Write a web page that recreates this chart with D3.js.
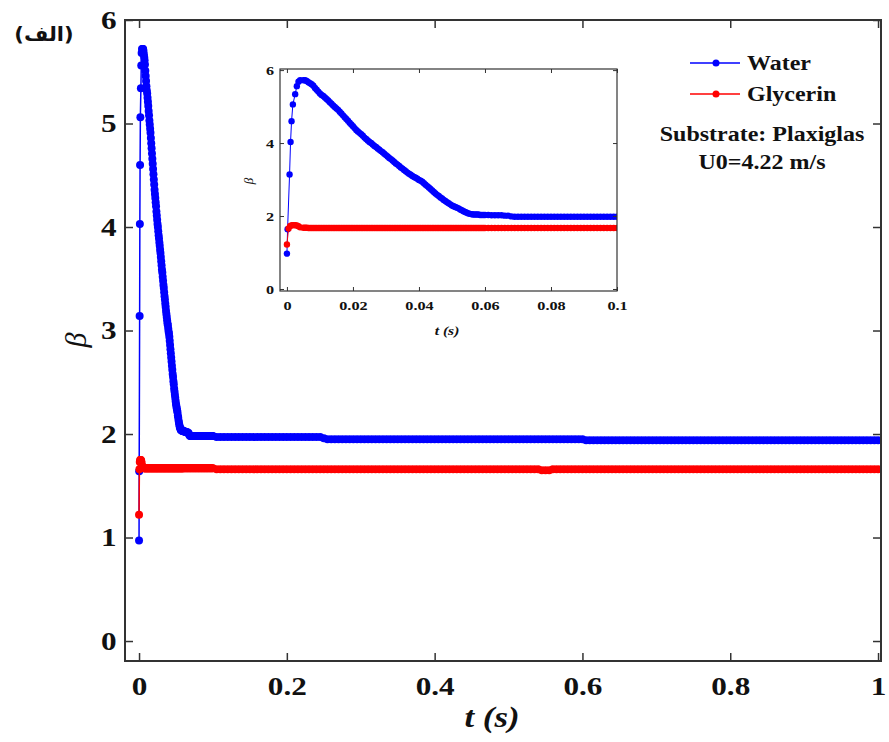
<!DOCTYPE html>
<html>
<head>
<meta charset="utf-8">
<script src="https://cdn.jsdelivr.net/npm/d3@7"></script>
<style>
  body { margin: 0; background: #fff; }
  svg { display: block; }
</style>
</head>
<body>
<svg id="chart" width="889" height="742"></svg>
<script>
// ---- data -------------------------------------------------------------
// Impact phase, sampled irregularly (t in s)
const waterEarlyT = [0, 0.0002, 0.0008, 0.0011, 0.0014, 0.0018, 0.0025, 0.003, 0.0035, 0.004];
const waterEarly  = [0.97, 1.64, 3.14, 4.03, 4.60, 5.06, 5.34, 5.56, 5.68, 5.72];

const glycerinEarlyT = [0, 0.0005, 0.001, 0.0015, 0.002, 0.0025, 0.003, 0.0035, 0.004];
const glycerinEarly  = [1.22, 1.66, 1.73, 1.75, 1.75, 1.75, 1.74, 1.72, 1.69];

// Spreading / recoil phase, t = 0.0050 ... 0.0600 s every 0.5 ms
const tA = d3.range(0, 111).map(i => 0.005 + i * 0.0005);
const waterA = [
  5.72, 5.72, 5.70, 5.67, 5.64, 5.61, 5.57, 5.51, 5.46, 5.41,
  5.36, 5.32, 5.29, 5.25, 5.21, 5.17, 5.12, 5.08, 5.03, 4.99,
  4.95, 4.91, 4.86, 4.81, 4.76, 4.71, 4.66, 4.61, 4.56, 4.51,
  4.46, 4.41, 4.36, 4.32, 4.28, 4.24, 4.20, 4.15, 4.11, 4.07,
  4.03, 4.00, 3.96, 3.92, 3.89, 3.85, 3.82, 3.78, 3.75, 3.71,
  3.67, 3.63, 3.59, 3.56, 3.52, 3.48, 3.44, 3.41, 3.37, 3.33,
  3.30, 3.26, 3.23, 3.19, 3.16, 3.13, 3.10, 3.07, 3.05, 3.02,
  2.99, 2.97, 2.94, 2.90, 2.86, 2.82, 2.78, 2.74, 2.70, 2.66,
  2.62, 2.58, 2.55, 2.51, 2.48, 2.44, 2.41, 2.38, 2.35, 2.32,
  2.29, 2.27, 2.25, 2.23, 2.21, 2.18, 2.16, 2.13, 2.11, 2.09,
  2.07, 2.06, 2.05, 2.04, 2.04, 2.04, 2.04, 2.03, 2.03, 2.03,
  2.03
];
const glycerinA = [
  1.68, 1.68, 1.68, 1.67, 1.67, 1.67, 1.67, 1.67, 1.67, 1.67,
  1.67, 1.67, 1.67, 1.67, 1.67, 1.67, 1.67, 1.67, 1.67, 1.67,
  1.67, 1.67, 1.67, 1.67, 1.67, 1.67, 1.67, 1.67, 1.67, 1.67,
  1.67, 1.67, 1.67, 1.67, 1.67, 1.67, 1.67, 1.67, 1.67, 1.67,
  1.67, 1.67, 1.67, 1.67, 1.67, 1.67, 1.67, 1.67, 1.67, 1.67,
  1.67, 1.67, 1.67, 1.67, 1.67, 1.67, 1.67, 1.67, 1.67, 1.67,
  1.67, 1.67, 1.67, 1.67, 1.67, 1.67, 1.67, 1.67, 1.67, 1.67,
  1.67, 1.67, 1.67, 1.67, 1.67, 1.67, 1.67, 1.67, 1.67, 1.67,
  1.67, 1.67, 1.67, 1.67, 1.67, 1.67, 1.67, 1.67, 1.67, 1.67,
  1.67, 1.67, 1.67, 1.67, 1.67, 1.67, 1.67, 1.67, 1.67, 1.67,
  1.67, 1.67, 1.67, 1.67, 1.67, 1.67, 1.67, 1.67, 1.67, 1.67,
  1.67
];

// Settling phase, t = 0.061 ... 0.100 s every 1 ms
const tB = d3.range(61, 101).map(i => i / 1000);
const waterB = [
  2.03, 2.02, 2.02, 2.02, 2.02, 2.01, 2.01, 1.99, 1.98, 1.98,
  1.98, 1.98, 1.98, 1.98, 1.98, 1.98, 1.98, 1.98, 1.98, 1.98,
  1.98, 1.98, 1.98, 1.98, 1.98, 1.98, 1.98, 1.98, 1.98, 1.98,
  1.98, 1.98, 1.98, 1.98, 1.98, 1.98, 1.98, 1.98, 1.98, 1.98
];
const glycerinB = [
  1.67, 1.67, 1.67, 1.67, 1.67, 1.67, 1.67, 1.67, 1.67, 1.67,
  1.67, 1.67, 1.67, 1.67, 1.67, 1.67, 1.67, 1.67, 1.67, 1.67,
  1.67, 1.67, 1.67, 1.67, 1.67, 1.67, 1.67, 1.67, 1.67, 1.67,
  1.67, 1.67, 1.67, 1.67, 1.67, 1.67, 1.67, 1.67, 1.67, 1.67
];

// Equilibrium, t = 0.105 ... 1.000 s every 5 ms
const tC = d3.range(21, 201).map(i => i / 200);
const waterC = [
  1.97, 1.97, 1.97, 1.97, 1.97, 1.97, 1.97, 1.97, 1.97, 1.97,
  1.97, 1.97, 1.97, 1.97, 1.97, 1.97, 1.97, 1.97, 1.97, 1.97,
  1.97, 1.97, 1.97, 1.97, 1.97, 1.97, 1.97, 1.97, 1.97, 1.96,
  1.95, 1.95, 1.95, 1.95, 1.95, 1.95, 1.95, 1.95, 1.95, 1.95,
  1.95, 1.95, 1.95, 1.95, 1.95, 1.95, 1.95, 1.95, 1.95, 1.95,
  1.95, 1.95, 1.95, 1.95, 1.95, 1.95, 1.95, 1.95, 1.95, 1.95,
  1.95, 1.95, 1.95, 1.95, 1.95, 1.95, 1.95, 1.95, 1.95, 1.95,
  1.95, 1.95, 1.95, 1.95, 1.95, 1.95, 1.95, 1.95, 1.95, 1.95,
  1.95, 1.95, 1.95, 1.95, 1.95, 1.95, 1.95, 1.95, 1.95, 1.95,
  1.95, 1.95, 1.95, 1.95, 1.95, 1.95, 1.95, 1.95, 1.95, 1.95,
  1.94, 1.94, 1.94, 1.94, 1.94, 1.94, 1.94, 1.94, 1.94, 1.94,
  1.94, 1.94, 1.94, 1.94, 1.94, 1.94, 1.94, 1.94, 1.94, 1.94,
  1.94, 1.94, 1.94, 1.94, 1.94, 1.94, 1.94, 1.94, 1.94, 1.94,
  1.94, 1.94, 1.94, 1.94, 1.94, 1.94, 1.94, 1.94, 1.94, 1.94,
  1.94, 1.94, 1.94, 1.94, 1.94, 1.94, 1.94, 1.94, 1.94, 1.94,
  1.94, 1.94, 1.94, 1.94, 1.94, 1.94, 1.94, 1.94, 1.94, 1.94,
  1.94, 1.94, 1.94, 1.94, 1.94, 1.94, 1.94, 1.94, 1.94, 1.94,
  1.94, 1.94, 1.94, 1.94, 1.94, 1.94, 1.94, 1.94, 1.94, 1.94
];
const glycerinC = [
  1.66, 1.66, 1.66, 1.66, 1.66, 1.66, 1.66, 1.66, 1.66, 1.66,
  1.66, 1.66, 1.66, 1.66, 1.66, 1.66, 1.66, 1.66, 1.66, 1.66,
  1.66, 1.66, 1.66, 1.66, 1.66, 1.66, 1.66, 1.66, 1.66, 1.66,
  1.66, 1.66, 1.66, 1.66, 1.66, 1.66, 1.66, 1.66, 1.66, 1.66,
  1.66, 1.66, 1.66, 1.66, 1.66, 1.66, 1.66, 1.66, 1.66, 1.66,
  1.66, 1.66, 1.66, 1.66, 1.66, 1.66, 1.66, 1.66, 1.66, 1.66,
  1.66, 1.66, 1.66, 1.66, 1.66, 1.66, 1.66, 1.66, 1.66, 1.66,
  1.66, 1.66, 1.66, 1.66, 1.66, 1.66, 1.66, 1.66, 1.66, 1.66,
  1.66, 1.66, 1.66, 1.66, 1.66, 1.66, 1.66, 1.66, 1.65, 1.65,
  1.65, 1.66, 1.66, 1.66, 1.66, 1.66, 1.66, 1.66, 1.66, 1.66,
  1.66, 1.66, 1.66, 1.66, 1.66, 1.66, 1.66, 1.66, 1.66, 1.66,
  1.66, 1.66, 1.66, 1.66, 1.66, 1.66, 1.66, 1.66, 1.66, 1.66,
  1.66, 1.66, 1.66, 1.66, 1.66, 1.66, 1.66, 1.66, 1.66, 1.66,
  1.66, 1.66, 1.66, 1.66, 1.66, 1.66, 1.66, 1.66, 1.66, 1.66,
  1.66, 1.66, 1.66, 1.66, 1.66, 1.66, 1.66, 1.66, 1.66, 1.66,
  1.66, 1.66, 1.66, 1.66, 1.66, 1.66, 1.66, 1.66, 1.66, 1.66,
  1.66, 1.66, 1.66, 1.66, 1.66, 1.66, 1.66, 1.66, 1.66, 1.66,
  1.66, 1.66, 1.66, 1.66, 1.66, 1.66, 1.66, 1.66, 1.66, 1.66
];

const seriesNames  = ["Water", "Glycerin"];
const seriesColors = ["#0000ff", "#ff0000"];

const mainXTicks  = [0, 0.2, 0.4, 0.6, 0.8, 1];
const mainYTicks  = [0, 1, 2, 3, 4, 5, 6];
const insetXTicks = [0, 0.02, 0.04, 0.06, 0.08, 0.1];
const insetYTicks = [0, 2, 4, 6];

const panelTag  = "(الف)";
const noteLines = ["Substrate: Plaxiglas", "U0=4.22 m/s"];

// ---- helpers ------------------------------------------------------------
function buildSeries(earlyT, early, a, b, c) {
  const pts = earlyT.map((t, i) => ({ t, b: early[i] }));
  a.forEach((v, i) => pts.push({ t: tA[i], b: v }));
  b.forEach((v, i) => pts.push({ t: tB[i], b: v }));
  c.forEach((v, i) => pts.push({ t: tC[i], b: v }));
  return pts;
}
const allSeries = [
  buildSeries(waterEarlyT, waterEarly, waterA, waterB, waterC),
  buildSeries(glycerinEarlyT, glycerinEarly, glycerinA, glycerinB, glycerinC)
];

const SERIF = "'Liberation Serif', 'Times New Roman', serif";
const INK = "#111";
const AXIS = "#333";
const STRETCH = 1.2;   // lettering is set slightly wide

const svg = d3.select("#chart");

function drawPanel(cfg) {
  const { x, y, id, xTicks, yTicks, tick, fontSize, xPad, yPad, r, lw, frameW, xmax } = cfg;
  const [x0, x1] = x.range();
  const [y0, y1] = y.range(); // y0 bottom, y1 top
  const g = svg.append("g");

  g.append("rect")
    .attr("x", x0).attr("y", y1).attr("width", x1 - x0).attr("height", y0 - y1)
    .attr("fill", "#fff");

  g.append("clipPath").attr("id", id)
    .append("rect")
    .attr("x", x0).attr("y", y1).attr("width", x1 - x0).attr("height", y0 - y1);

  const plot = g.append("g").attr("clip-path", `url(#${id})`);
  const line = d3.line().x(d => x(d.t)).y(d => y(d.b));

  allSeries.forEach((pts, k) => {
    const data = pts.filter(d => d.t <= xmax + 1e-9);
    plot.append("path")
      .datum(data)
      .attr("d", line)
      .attr("fill", "none")
      .attr("stroke", seriesColors[k])
      .attr("stroke-width", lw);
    plot.append("g")
      .selectAll("circle")
      .data(data)
      .join("circle")
      .attr("cx", d => x(d.t))
      .attr("cy", d => y(d.b))
      .attr("r", r)
      .attr("fill", seriesColors[k]);
  });

  const styleAxis = (sel, showText) => {
    sel.select(".domain").remove();
    sel.selectAll(".tick line").attr("stroke", AXIS).attr("stroke-width", cfg.tickW);
    sel.selectAll(".tick text")
      .attr("fill", INK)
      .attr("font-family", SERIF)
      .attr("font-weight", "bold")
      .attr("font-size", fontSize)
      .attr("transform", `scale(${STRETCH},1)`);
    if (!showText) sel.selectAll(".tick text").remove();
  };

  g.append("g").attr("transform", `translate(0,${y0})`)
    .call(d3.axisBottom(x).tickValues(xTicks).tickSize(-tick).tickPadding(xPad).tickFormat(d => String(d)))
    .call(s => styleAxis(s, true));
  g.append("g").attr("transform", `translate(0,${y1})`)
    .call(d3.axisTop(x).tickValues(xTicks).tickSize(-tick).tickFormat(""))
    .call(s => styleAxis(s, false));
  g.append("g").attr("transform", `translate(${x0},0)`)
    .call(d3.axisLeft(y).tickValues(yTicks).tickSize(-tick).tickPadding(yPad).tickFormat(d => String(d)))
    .call(s => styleAxis(s, true));
  g.append("g").attr("transform", `translate(${x1},0)`)
    .call(d3.axisRight(y).tickValues(yTicks).tickSize(-tick).tickFormat(""))
    .call(s => styleAxis(s, false));

  g.append("rect")
    .attr("x", x0).attr("y", y1).attr("width", x1 - x0).attr("height", y0 - y1)
    .attr("fill", "none").attr("stroke", AXIS).attr("stroke-width", frameW);
  return g;
}

function label(text, px, py, opts) {
  const o = Object.assign({ size: 20, weight: "bold", style: "normal", anchor: "middle", rotate: 0, family: SERIF, sx: STRETCH }, opts);
  svg.append("text")
    .attr("transform", `translate(${px},${py}) rotate(${o.rotate}) scale(${o.sx},1)`)
    .attr("text-anchor", o.anchor)
    .attr("font-family", o.family)
    .attr("font-size", o.size)
    .attr("font-weight", o.weight)
    .attr("font-style", o.style)
    .attr("fill", INK)
    .text(text);
}

// ---- main panel ----------------------------------------------------------
const xMain = d3.scaleLinear().domain([-0.019, 1.004]).range([125, 881]);
const yMain = d3.scaleLinear().domain([-0.193, 6]).range([661, 20]);
drawPanel({
  x: xMain, y: yMain, id: "clip-main", xTicks: mainXTicks, yTicks: mainYTicks,
  tick: 8, tickW: 1.5, fontSize: 26, xPad: 16, yPad: 7, r: 4, lw: 1.5, frameW: 2, xmax: 1.01
});
label("t (s)", 492, 727, { size: 29, style: "italic" });
label("β", 86, 340, { size: 30, style: "italic", weight: "normal", rotate: -90, sx: 1 });

// ---- inset: first 0.1 s ---------------------------------------------------
const xInset = d3.scaleLinear().domain([-0.0021, 0.1]).range([280, 617]);
const yInset = d3.scaleLinear().domain([-0.055, 6.03]).range([291, 69]);
drawPanel({
  x: xInset, y: yInset, id: "clip-inset", xTicks: insetXTicks, yTicks: insetYTicks,
  tick: 4, tickW: 1, fontSize: 13.5, xPad: 9, yPad: 5, r: 3.2, lw: 1, frameW: 1.2, xmax: 0.1
});
label("t (s)", 447, 335, { size: 13, style: "italic" });
label("β", 253, 181, { size: 13, style: "italic", weight: "normal", rotate: -90, sx: 1 });

// ---- legend and notes ------------------------------------------------------
const legendY = [63, 94];
seriesNames.forEach((name, k) => {
  svg.append("line")
    .attr("x1", 690).attr("x2", 740).attr("y1", legendY[k]).attr("y2", legendY[k])
    .attr("stroke", seriesColors[k]).attr("stroke-width", 1.3);
  svg.append("circle")
    .attr("cx", 716).attr("cy", legendY[k]).attr("r", 3.5)
    .attr("fill", seriesColors[k]);
  label(name, 747, legendY[k] + 7, { size: 20, anchor: "start" });
});
label(noteLines[0], 762, 141, { size: 20 });
label(noteLines[1], 762, 169, { size: 20 });

// panel tag
label(panelTag, 44, 41, { size: 20, family: "'DejaVu Sans', sans-serif", sx: 1.05 });
</script>
</body>
</html>
